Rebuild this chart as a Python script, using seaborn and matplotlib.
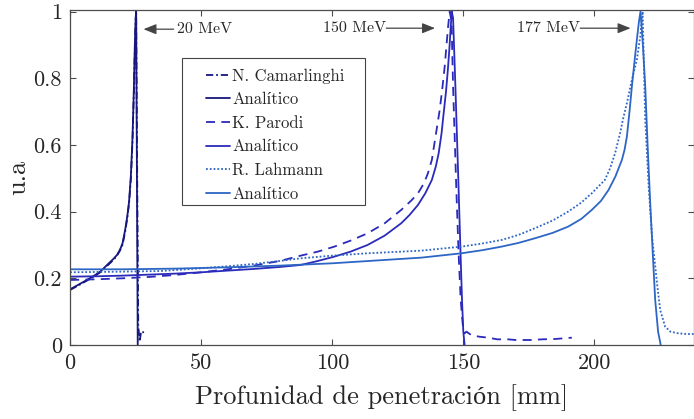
import numpy as np
import pandas as pd
import matplotlib
matplotlib.use("Agg")
import matplotlib.pyplot as plt
from matplotlib.patches import Rectangle
import seaborn as sns

# ---------------- data ----------------
x20_ana = [0, 3, 6.4, 9, 11.5, 14.5, 16.5, 17.9, 19, 20, 21, 21.8, 22.5, 23.2, 23.8, 24.3, 24.7, 25.0, 25.2, 25.5, 25.8]
y20_ana = [0.167, 0.18, 0.195, 0.207, 0.22, 0.243, 0.258, 0.27, 0.285, 0.305, 0.345, 0.385, 0.43, 0.51, 0.62, 0.76, 0.9, 0.98, 1.0, 0.5, 0.0]

x20_cam = [0, 3, 6.4, 9, 11.5, 14.5, 16.5, 17.9, 19, 20, 21, 21.8, 22.5, 23.2, 23.8, 24.3, 24.7, 25.0, 25.2, 25.6, 26.0, 26.5, 27.0, 27.6, 28.3]
y20_cam = [0.165, 0.178, 0.193, 0.205, 0.218, 0.24, 0.255, 0.268, 0.283, 0.30, 0.34, 0.38, 0.425, 0.5, 0.61, 0.75, 0.89, 0.97, 1.0, 0.5, 0.06, 0.01, 0.035, 0.042, 0.032]

x150_ana = [0, 10, 20, 30, 40, 50, 60, 70, 80, 88, 94, 100.8, 107, 113.5, 120, 126.3, 129.5, 132.7, 135.5, 138,
            139.5, 140.6, 141.7, 142.5, 143.4, 144.1, 144.7, 145.2, 145.6, 146.1, 147, 148, 149, 149.5, 150, 150.5]
y150_ana = [0.205, 0.206, 0.208, 0.211, 0.214, 0.218, 0.223, 0.228, 0.234, 0.24, 0.251, 0.265, 0.28, 0.30, 0.328, 0.365, 0.39, 0.42, 0.455, 0.495,
            0.535, 0.575, 0.635, 0.695, 0.76, 0.825, 0.89, 0.955, 1.0, 0.98, 0.77, 0.52, 0.26, 0.135, 0.04, 0.0]

x150_par = [0, 10, 20, 30, 40, 50, 60, 70, 80, 88, 94.5, 100.8, 107, 113.5, 120, 126.3, 130, 132.7, 135, 136.5, 138, 139, 140,
            141, 142, 142.9, 143.6, 144.2, 144.8, 145.5, 146.1, 146.7, 147.3, 148.2, 149, 149.8, 150.5, 151.2,
            153, 156, 159.5, 163, 167, 170, 176, 180, 185, 191.4]
y150_par = [0.195, 0.197, 0.2, 0.204, 0.21, 0.218, 0.227, 0.238, 0.252, 0.268, 0.28, 0.295, 0.313, 0.335, 0.365, 0.405, 0.432, 0.455, 0.485, 0.515, 0.555, 0.605, 0.655,
            0.705, 0.77, 0.835, 0.9, 0.955, 1.0, 0.97, 0.775, 0.625, 0.475, 0.275, 0.135, 0.06, 0.035, 0.04,
            0.03, 0.025, 0.022, 0.017, 0.017, 0.015, 0.015, 0.017, 0.018, 0.022]

x177_ana = [0, 20, 40, 60, 80, 100, 120, 134, 149.3, 157, 164.6, 171, 177.3, 184, 190, 195, 199, 202.5, 205.4, 208, 210.5,
            211.5, 212.4, 213.4, 214.3, 215.3, 216.2, 217, 217.6, 218.5, 219.4, 220.3, 221.3, 222.3, 223.2, 224.3, 225.3]
y177_ana = [0.227, 0.227, 0.229, 0.233, 0.238, 0.245, 0.255, 0.262, 0.275, 0.284, 0.295, 0.306, 0.32, 0.336, 0.355, 0.378, 0.405, 0.432, 0.465, 0.505, 0.555,
            0.585, 0.625, 0.70, 0.775, 0.85, 0.915, 0.97, 1.0, 0.9, 0.775, 0.6, 0.425, 0.27, 0.135, 0.04, 0.0]

x177_lah = [0, 20, 35, 50, 60, 70, 80, 88, 100, 113.5, 134, 149.3, 157, 164.6, 171, 177.3, 184, 190, 195, 199, 204, 206, 207.9,
            209.8, 211, 212.4, 214.3, 216.2, 217.5, 218.4, 219.4, 220.7, 222, 223.9, 225.1, 227, 229, 232, 235, 238.8]
y177_lah = [0.218, 0.22, 0.222, 0.23, 0.236, 0.243, 0.252, 0.26, 0.268, 0.275, 0.283, 0.295, 0.304, 0.315, 0.33, 0.35, 0.373, 0.40, 0.427, 0.455, 0.495, 0.53, 0.575,
            0.635, 0.68, 0.725, 0.795, 0.855, 0.925, 1.0, 0.675, 0.475, 0.325, 0.185, 0.105, 0.055, 0.04, 0.035, 0.033, 0.033]

x_ticks = [0, 50, 100, 150, 200]
x_tick_labels = ["0", "50", "100", "150", "200"]
y_ticks = [0, 0.2, 0.4, 0.6, 0.8, 1.0]
y_tick_labels = ["0", "0.2", "0.4", "0.6", "0.8", "1"]

legend_labels = ["N. Camarlinghi", "Analítico", "K. Parodi", "Analítico", "R. Lahmann", "Analítico"]
annotations = ["20 MeV", "150 MeV", "177 MeV"]

# ---------------- style ----------------
sns.set_style("ticks")
plt.rcParams["font.family"] = ["cmr10", "Liberation Serif", "DejaVu Serif"]
plt.rcParams["axes.formatter.use_mathtext"] = True
plt.rcParams["mathtext.fontset"] = "cm"

c1 = "#16167e"
c2 = "#2a2abb"
c3 = "#2d66c4"
txt = "#262626"
spine = "#4d4d4d"

fig = plt.figure(figsize=(6.94, 4.19), dpi=100)
ax = fig.add_axes([0.101, 0.1766, 0.899, 0.8007])

lw = 1.3
series = [
    (x20_cam, y20_cam, c1, (0, (4, 1.6, 1, 1.6)), legend_labels[0]),
    (x20_ana, y20_ana, c1, "-", legend_labels[1]),
    (x150_par, y150_par, c2, (0, (5, 3.5)), legend_labels[2]),
    (x150_ana, y150_ana, c2, "-", legend_labels[3]),
    (x177_lah, y177_lah, c3, (0, (1, 1.1)), legend_labels[4]),
    (x177_ana, y177_ana, c3, "-", legend_labels[5]),
]
for xs, ys, col, ls, lab in series:
    df = pd.DataFrame({"x": xs, "y": ys})
    sns.lineplot(data=df, x="x", y="y", ax=ax, color=col, linestyle=ls, lw=lw,
                 label=lab, sort=False, estimator=None)

ax.set_xlim(0, 238)
ax.set_ylim(0, 1.006)
ax.set_xticks(x_ticks)
ax.set_xticklabels(x_tick_labels)
ax.set_yticks(y_ticks)
ax.set_yticklabels(y_tick_labels)
ax.tick_params(direction="in", length=4, width=0.8, colors=spine, labelcolor=txt,
               labelsize=16, top=True, right=True, pad=6)
for s in ax.spines.values():
    s.set_color(spine)
    s.set_linewidth(0.9)

ax.set_xlabel("Profunidad de penetración [mm]", fontsize=19, color=txt, labelpad=8)
ax.set_ylabel("u.a", fontsize=19, color=txt, labelpad=2)

# annotations with arrows
arrow_kw = dict(arrowstyle="-|>,head_length=0.55,head_width=0.22", color="#444444",
                lw=0.9, mutation_scale=14, shrinkA=0, shrinkB=0)
ax.annotate("", xy=(28.0, 0.947), xytext=(39.5, 0.947), arrowprops=arrow_kw)
ax.text(40.8, 0.947, annotations[0], fontsize=11.5, color=txt, ha="left", va="center")
ax.annotate("", xy=(139.2, 0.95), xytext=(120.6, 0.95), arrowprops=arrow_kw)
ax.text(120.5, 0.95, annotations[1], fontsize=11.5, color=txt, ha="right", va="center")
ax.annotate("", xy=(213.8, 0.95), xytext=(194.6, 0.95), arrowprops=arrow_kw)
ax.text(194.5, 0.95, annotations[2], fontsize=11.5, color=txt, ha="right", va="center")

# legend: box drawn separately (MATLAB-style padding)
ax.add_patch(Rectangle((0.1795, 0.4173), 0.4728 - 0.1795, 0.8554 - 0.4173,
                       transform=ax.transAxes, facecolor="white", edgecolor="#444444",
                       lw=0.8, zorder=4))
leg = ax.legend(loc="upper left", bbox_to_anchor=(0.218, 0.825), borderaxespad=0,
                fontsize=12, handlelength=1.45, handletextpad=0.12, labelspacing=0.5,
                frameon=False, borderpad=0)
leg.set_zorder(5)
for t in leg.get_texts():
    t.set_color(txt)

fig.savefig("out.png", dpi=100)
